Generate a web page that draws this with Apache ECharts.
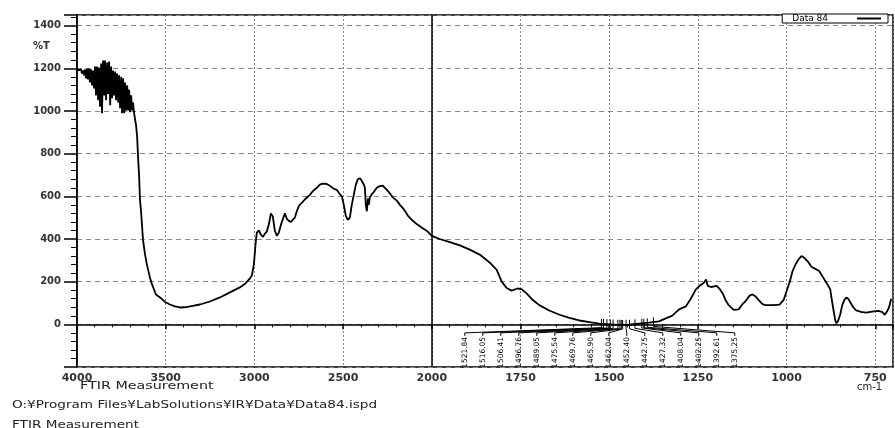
<!DOCTYPE html>
<html>
<head>
<meta charset="utf-8">
<script src="https://cdn.jsdelivr.net/npm/echarts@6/dist/echarts.min.js"></script>
<style>
html,body{margin:0;padding:0;background:#fff;}
#chart{width:895px;height:428px;}
</style>
</head>
<body>
<div id="chart"></div>
<script>
// ---- data ----
const wavenumber = [
  4000,3994,3989,3983,3977,3972,3966,3960,3955,3949,3943,3938,3932,3927,3921,3915,3910,3904,3898,3893,
  3887,3881,3876,3870,3864,3859,3853,3847,3842,3836,3830,3825,3819,3813,3808,3802,3797,3791,3785,3780,
  3774,3768,3763,3757,3751,3746,3740,3734,3729,3723,3717,3712,3706,3701,3695,3689,3684,3678,3672,3667,
  3661,3655,3650,3645,3639,3628,3617,3606,3589,3577,3555,3532,3504,3476,3448,3420,3392,3363,3307,3251,
  3194,3138,3082,3053,3025,3014,3003,2992,2986,2975,2963,2952,2941,2930,2918,2907,2896,2885,2873,2862,
  2851,2839,2828,2817,2806,2794,2783,2772,2761,2749,2732,2710,2687,2670,2648,2631,2614,2592,2575,2552,
  2535,2518,2507,2496,2485,2473,2462,2451,2439,2428,2417,2405,2394,2383,2377,2372,2366,2360,2355,2349,
  2338,2327,2310,2293,2276,2259,2242,2220,2197,2180,2158,2135,2113,2085,2051,2023,2000,
  1978,1949,1921,1893,1865,1837,1817,1803,1789,1775,1758,1747,1733,1716,1697,1669,1640,1612,1584,1556,
  1528,1500,1472,1444,1416,1388,1360,1337,1323,1303,1284,1270,1256,1244,1233,1227,1222,1213,1197,1188,
  1180,1171,1163,1149,1135,1124,1115,1104,1096,1087,1079,1068,1059,1037,1020,1008,1000,991,983,975,
  966,958,950,938,930,919,908,897,886,877,872,869,863,860,855,849,843,837,832,826,
  821,812,804,790,776,759,742,731,723,717,711,705
];
const transmittance = [
  1204,1190,1199,1181,1195,1176,1190,1167,1195,1153,1199,1148,1199,1134,1195,1120,1190,1106,1209,1073,
  1209,1050,1204,1020,1223,989,1237,1073,1237,1050,1227,1080,1232,1027,1209,1060,1190,1073,1185,1050,
  1176,1040,1167,1013,1160,989,1153,989,1134,1003,1120,1003,1100,994,1073,1003,1040,989,980,933,
  880,770,700,584,530,397,330,280,220,187,140,126,105,93,84,79,80,84,93,107,
  126,150,173,190,215,230,280,390,430,440,420,410,425,435,470,520,505,440,415,430,
  465,495,520,495,485,480,485,500,530,555,570,590,607,625,640,655,660,658,650,635,
  630,610,600,560,510,490,500,560,610,655,680,685,672,655,640,560,530,590,560,595,
  610,620,640,648,650,635,620,595,580,560,540,510,490,470,450,435,415,
  400,385,370,350,327,290,255,200,170,158,168,165,145,115,90,65,45,30,18,10,
  3,0,-3,-2,3,8,14,30,40,70,84,120,163,182,195,210,180,175,180,165,
  145,110,90,68,70,95,110,135,140,130,115,95,90,90,92,115,155,200,250,280,
  305,320,312,290,270,260,250,220,190,165,110,80,20,5,15,45,90,115,125,120,
  105,80,65,58,55,60,63,58,45,60,80,120
];
const peakLabels = ['1521.84','1516.05','1506.41','1496.76','1489.05','1475.54','1469.76','1465.90',
  '1462.04','1452.40','1442.75','1427.32','1408.04','1402.25','1392.61','1375.25'];
const peakWavenumbers = [1521.84,1516.05,1506.41,1496.76,1489.05,1475.54,1469.76,1465.90,
  1462.04,1452.40,1442.75,1427.32,1408.04,1402.25,1392.61,1375.25];
const peakTransmittance = [3,2,1,0,-1,-2,-2,-3,-3,-2,-2,0,2,3,5,9];
const xTickLabels = ['4000','3500','3000','2500','2000','1750','1500','1250','1000','750'];
const yTickLabels = [0,200,400,600,800,1000,1200,1400];
const seriesName = 'Data 84';

// FTIR axis: scale doubles below 2000 cm-1
function toP(wn){ return wn >= 2000 ? 4000 - wn : 2000 + 2 * (2000 - wn); }

const lineData = wavenumber.map((w, i) => [toP(w), transmittance[i]]);
const peakData = peakWavenumbers.map((w, i) => [toP(w), peakTransmittance[i]]);

const FONT = 'DejaVu Sans';
const chart = echarts.init(document.getElementById('chart'), null, {renderer: 'canvas'});
chart.setOption({
  animation: false,
  backgroundColor: '#fff',
  grid: {left: 77, right: 2, top: 15, bottom: 61, show: true, borderColor: '#000', borderWidth: 1.5, backgroundColor: 'transparent'},
  legend: {
    data: [{name: seriesName, icon: 'rect'}],
    right: 7, top: 14, align: 'right',
    itemWidth: 24, itemHeight: 2, itemGap: 4,
    padding: [0, 7, 0, 10],
    borderColor: '#000', borderWidth: 1, backgroundColor: '#fff',
    textStyle: {fontFamily: FONT, fontSize: 9, color: '#000', padding: [0, 24, 0, 0]}
  },
  xAxis: {
    type: 'value', min: 0, max: 4600, interval: 500,
    axisLine: {show: true, lineStyle: {color: '#000', width: 1.5}},
    axisTick: {show: true, length: 5, lineStyle: {color: '#000', width: 1.5}},
    minorTick: {show: true, splitNumber: 5, length: 3, lineStyle: {color: '#000', width: 1}},
    axisLabel: {
      margin: 6, fontFamily: FONT, fontSize: 11, fontWeight: 'bold', color: '#333',
      showMaxLabel: false,
      formatter: v => (v % 500 === 0 && v / 500 < xTickLabels.length) ? xTickLabels[v / 500] : ''
    },
    splitLine: {show: true, lineStyle: {color: '#888', type: [2, 2], width: 1}}
  },
  yAxis: {
    type: 'value', min: -200, max: 1450, interval: 200,
    axisLine: {show: true, lineStyle: {color: '#000', width: 1.5}},
    axisTick: {show: true, length: 13, lineStyle: {color: '#000', width: 1.5}},
    minorTick: {show: true, splitNumber: 5, length: 6, lineStyle: {color: '#000', width: 1}},
    axisLabel: {
      margin: 16, fontFamily: FONT, fontSize: 10, fontWeight: 'bold', color: '#333',
      showMaxLabel: false,
      formatter: v => yTickLabels.indexOf(v) >= 0 ? String(v) : ''
    },
    splitLine: {show: true, lineStyle: {color: '#888', type: [5, 4], width: 1}}
  },
  graphic: [
    {type: 'text', x: 33, y: 41, style: {text: '%T', fontFamily: FONT, fontSize: 10, fontWeight: 'bold', fill: '#333'}},
    {type: 'text', x: 80, y: 381, scaleX: 1.3, style: {text: 'FTIR Measurement', fontFamily: FONT, fontSize: 11, fill: '#222'}},
    {type: 'text', x: 857, y: 382, style: {text: 'cm-1', fontFamily: FONT, fontSize: 10, fill: '#222'}},
    {type: 'text', x: 12, y: 400, scaleX: 1.36, style: {text: 'O:¥Program Files¥LabSolutions¥IR¥Data¥Data84.ispd', fontFamily: FONT, fontSize: 10, fill: '#222'}},
    {type: 'text', x: 12, y: 420, scaleX: 1.36, style: {text: 'FTIR Measurement', fontFamily: FONT, fontSize: 10, fill: '#222'}}
  ],
  series: [
    {
      name: seriesName, type: 'line', data: lineData, showSymbol: false, symbol: 'none',
      lineStyle: {color: '#000', width: 1.8}, itemStyle: {color: '#000'},
      markLine: {
        silent: true, symbol: 'none', label: {show: false},
        lineStyle: {color: '#000', type: 'solid', width: 1.5},
        data: [{xAxis: toP(2000)}]
      }
    },
    {
      name: 'peaks', type: 'custom', data: peakData, clip: false, silent: true,
      renderItem: function (params, api) {
        const i = params.dataIndex;
        const pt = api.coord([api.value(0), api.value(1)]);
        const base = api.coord([toP(1907), -40]);
        const lx = base[0] + i * 18;
        const by = base[1];
        return {
          type: 'group',
          children: [
            {type: 'polyline', shape: {points: [[pt[0], pt[1] - 5], [pt[0], pt[1] + 4], [lx, by], [lx, by + 3]]},
             style: {stroke: '#000', fill: null, lineWidth: 1}},
            {type: 'text', x: lx, y: by + 4, rotation: Math.PI / 2,
             style: {text: peakLabels[i], fontFamily: FONT, fontSize: 7.5, fill: '#000', align: 'right', verticalAlign: 'middle'}}
          ]
        };
      }
    }
  ]
});
</script>
</body>
</html>
